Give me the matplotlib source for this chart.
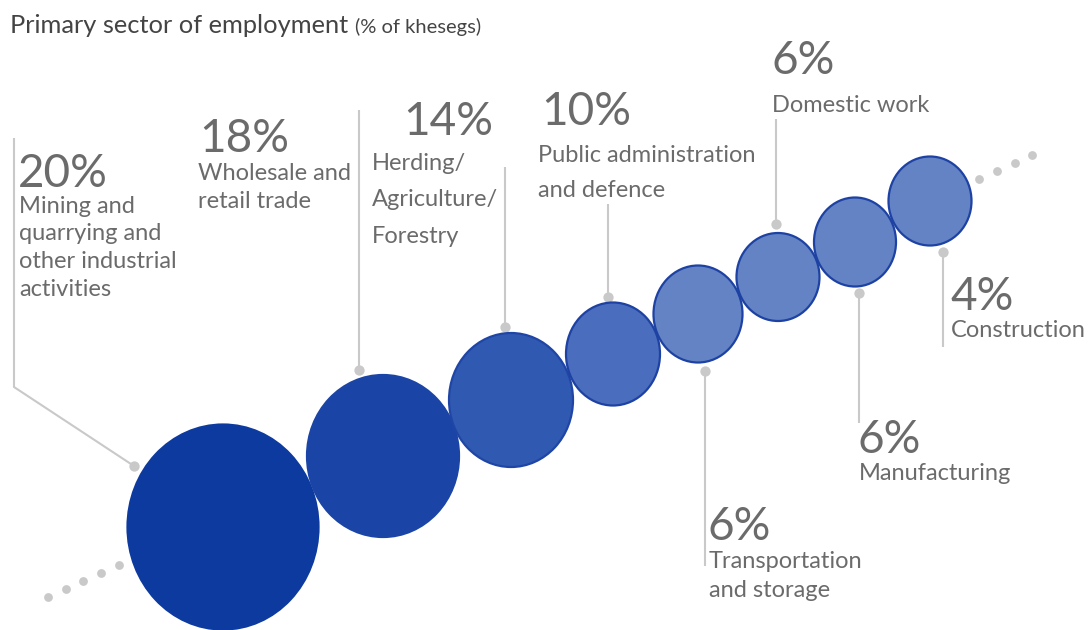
import matplotlib
matplotlib.use("Agg")
import matplotlib.pyplot as plt
from matplotlib.patches import Ellipse

# ---- data -------------------------------------------------------------
sectors = [
    "Mining and\nquarrying and\nother industrial\nactivities",
    "Wholesale and\nretail trade",
    "Herding/\nAgriculture/\nForestry",
    "Public administration\nand defence",
    "Transportation\nand storage",
    "Domestic work",
    "Manufacturing",
    "Construction",
]
shares = [20, 18, 14, 10, 6, 6, 6, 4]

title = "Primary sector of employment"
subtitle = "(% of khesegs)"

# ---- layout (pixel space, origin top-left) ----------------------------
centers = [(223, 527), (383, 456), (511, 400), (613, 354),
           (698, 314), (778, 277), (855, 242), (930, 201)]
widths = [191, 152, 124, 94, 89, 83, 82, 83]
heights = [205, 162, 134, 103, 97, 88, 89, 89]
fills = ["#0d3a9e", "#1a44a6", "#3059b1", "#4a6dbd",
         "#6483c4", "#6483c4", "#6483c4", "#6483c4"]
edges = ["#0d3a9e", "#1a44a6", "#1f46a6", "#1d42a3",
         "#1d42a3", "#1d42a3", "#1d42a3", "#1d42a3"]

# leader line paths (first point = end near the bubble, gets a dot)
leaders = [
    [(134, 466), (14, 387), (14, 138)],
    [(359, 370), (359, 110)],
    [(505, 327), (505, 167)],
    [(608, 297), (608, 204)],
    [(705, 371), (705, 566)],
    [(776, 224), (776, 119)],
    [(859, 293), (859, 423)],
    [(943, 252), (943, 347)],
]

# text anchors: x of number, x of label, baseline of big number,
# baseline of first label line, line step
text_pos = [
    (18, 19, 187, 213, 27.5),
    (199, 198, 152, 180, 28),
    (403, 372, 135, 170, 36.5),
    (541, 538, 125, 162, 35),
    (708, 709, 540, 568, 29),
    (771, 772, 74, 112, 0),
    (857, 859, 453, 480, 0),
    (950, 951, 310, 337, 0),
]

dots_low = [(48, 597), (66, 589), (83, 581), (101, 573), (119, 565)]
dots_high = [(979, 179), (997, 171), (1015, 163), (1032, 155)]

GREY_LINE = "#c9c9c9"
TEXT = "#6b6b6b"
FONT = "Lato"

fig = plt.figure(figsize=(10.92, 6.30), dpi=100)
ax = fig.add_axes([0, 0, 1, 1])
ax.set_xlim(0, 1092)
ax.set_ylim(630, 0)
ax.axis("off")

# dotted trail before and after the chain
for pts in (dots_low, dots_high):
    ax.scatter([p[0] for p in pts], [p[1] for p in pts], s=40,
               color=GREY_LINE, linewidths=0, zorder=1)

# leader lines
for path in leaders:
    xs = [p[0] for p in path]
    ys = [p[1] for p in path]
    ax.plot(xs, ys, color=GREY_LINE, lw=1.5, zorder=1, solid_capstyle="butt")
    ax.scatter([xs[0]], [ys[0]], s=55, color=GREY_LINE, linewidths=0, zorder=1)

# bubbles
for (cx, cy), w, h, fc, ec in zip(centers, widths, heights, fills, edges):
    ax.add_patch(Ellipse((cx, cy), w, h, facecolor=fc, edgecolor=ec,
                         lw=1.6, zorder=3))

# labels
for name, val, (xn, xl, yb, yl, step) in zip(sectors, shares, text_pos):
    ax.text(xn, yb, f"{val}%", fontsize=33, color=TEXT, family=FONT,
            va="baseline", ha="left", zorder=4)
    for i, line in enumerate(name.split("\n")):
        ax.text(xl, yl + i * step, line, fontsize=17, color=TEXT,
                family=FONT, va="baseline", ha="left", zorder=4)

# heading
t = ax.text(10, 33, title, fontsize=18.3, color="#444444", family=FONT,
            va="baseline", ha="left")
fig.canvas.draw()
bb = t.get_window_extent()
ax.text(bb.x1 + 7, 33, subtitle, fontsize=14.5, color="#444444",
        family=FONT, va="baseline", ha="left")

fig.savefig("out.png", dpi=100, facecolor="white")
